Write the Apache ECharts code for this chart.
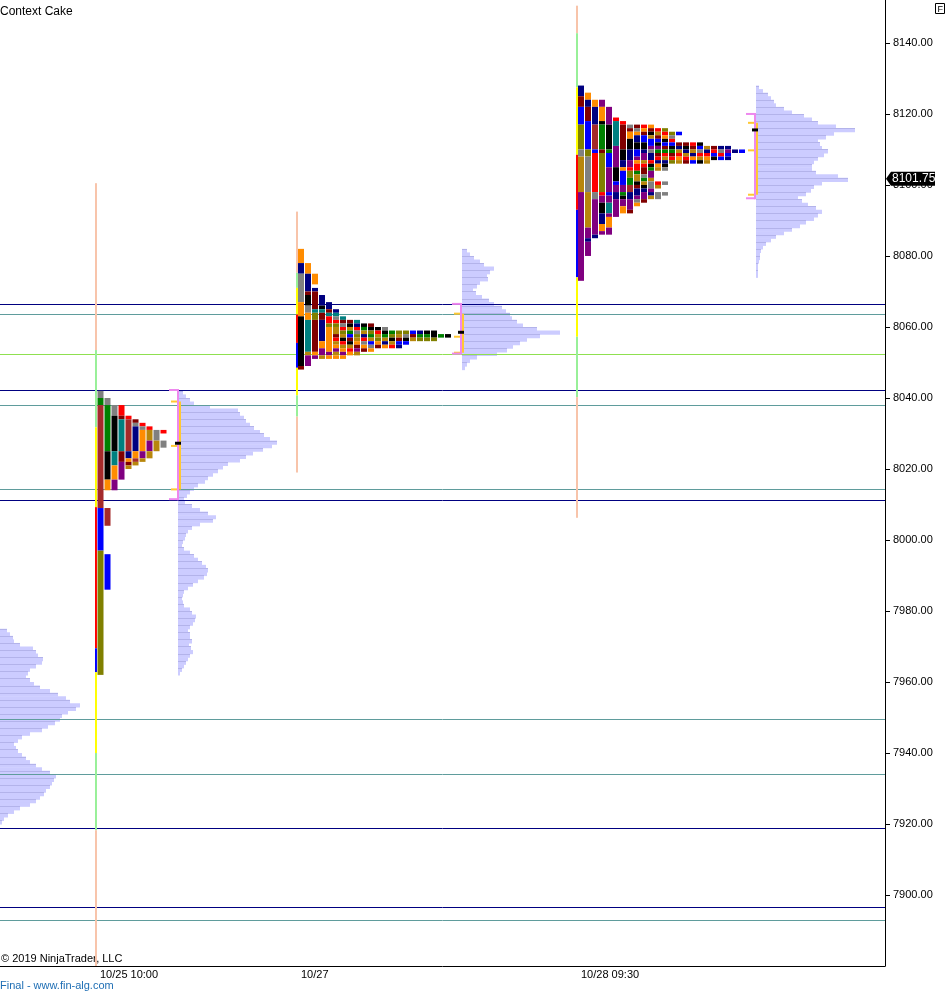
<!DOCTYPE html>
<html><head><meta charset="utf-8">
<script src="https://cdn.jsdelivr.net/npm/echarts@6/dist/echarts.min.js"></script>
<style>html,body{margin:0;padding:0;background:#fff;}#c{width:946px;height:992px;}</style>
</head><body><div id="c"></div>
<script>
// ---------------- axes ----------------
const Y_MIN = 7880, Y_MAX = 8152.1;
const yTickValues = [7900, 7920, 7940, 7960, 7980, 8000, 8020, 8040, 8060, 8080, 8100, 8120, 8140];
const X_MIN = 0, X_MAX = 126.43;            // 30-minute slots
const xTickSlots = [13.71, 42.43, 82.43];
const xTickLabels = ['10/25 10:00', '10/27', '10/28 09:30'];
const lastPrice = 8101.75;

// ---------------- horizontal reference lines ----------------
const navyLines = [8066.5, 8042.25, 8011.25, 7919.0, 7896.5];
const tealLines = [8063.75, 8038.0, 8014.5, 7949.5, 7934.0, 7893.0];
const greenLines = [8052.25];

// ---------------- TPO colour codes ----------------
const TPO_COLORS = {g:'#808080',G:'#008000',b:'#a52a2a',k:'#000000',o:'#ff8c00',p:'#800080',r:'#ff0000',
  m:'#800000',t:'#008080',n:'#000080',y:'#b8860b',B:'#0000ff',l:'#808000'};
const RANGE_COLORS = {s:'#f8c4aa', L:'#98f098', Y:'#ffff00', r:'#ff0000', B:'#0000ff'};

// ---------------- profile 1 (10/25) ----------------
const p1Top = 8042;
const p1ColStart = 13.93;
const p1Cols = ['2g2G29b12B35l','2.2g13G8k3o5.5b8.10B','4.3g10k4t4o3p','4.3r1m9t3m5p','7.1r9b2n1o1m1y',
  '8.1m1g7n2o1b1y','9.1r1g6o2p1y','10.1r3y3p2y','11.3g3y','11.1r2.2g'];
const p1RangeX = 13.71;
const p1Range = [[8100.5,8053.5,'s'],[8053.5,8031.75,'L'],[8031.75,8009.25,'Y'],[8009.25,7969.5,'r'],
  [7969.5,7962.75,'B'],[7962.75,7940.0,'Y'],[7940.0,7918.25,'L'],[7918.25,7870,'s']];
const p1VolStart = 25.43;
const p1Vol = [5,8,12,16,32,60,62,66,68,72,76,82,86,92,99,94,85,75,68,62,50,45,40,35,30,27,20,16,12,9,6,7,14,22,30,38,35,22,14,10,
  8,7,5,4,6,12,16,20,24,28,30,29,26,20,15,10,6,5,4,5,6,12,14,18,17,15,12,10,12,12,14,11,13,15,12,10,8,6,4,2];
const p1Bracket = [25.29, 8042.25, 8011.5, 8039.0, 8014.25, 8026.5, 8027.25]; // x, VAH, VAL, vVAH, vVAL, mid, POC

// ---------------- profile 2 (10/27) ----------------
const p2Top = 8082;
const p2ColStart = 42.57;
const p2Cols = ['4o3n8g4o14k1m','4.3o5n1m3k2g2o9t1y3p','7.3o1.1n5m1t2l9m1o1p','13.3n1k1t2m6n2o2p1y','15.2n1m1t2r1l7o1p1o',
  '17.1n1t1g1r1l2y1m1r1y1o1p1y1o','19.1t1m1g1r1l1y1k1r1y1o1p1o','20.1m1k1y1G1B1m1k1y1r1o','20.1t1n1r1g1l1y1o1m1p1y',
  '21.1k1G1y1n1r1g1o1m','21.1m1k1l1G1y1B1g1o','22.1k1r1y1l1o1m','22.1g1k1G1y1n1o','23.1G1l1k1y1r','23.1l1y1m1B1n',
  '23.1l1g1k1B','23.1B1m1y','23.1n1G1l','23.1k1G1l','23.2k1l','24.1G','24.1k'];
const p2RangeX = 42.43;
const p2Range = [[8092.5,8075.25,'s'],[8075.25,8071,'L'],[8071,8063.5,'Y'],[8063.5,8055.5,'r'],
  [8055.5,8048.5,'B'],[8048.5,8040.75,'Y'],[8040.75,8034.75,'L'],[8034.75,8019,'s']];
const p2VolStart = 66.0;
const p2Vol = [5,8,12,18,22,32,28,25,26,18,15,11,14,20,27,32,40,44,48,50,55,61,75,98,78,65,58,51,45,35,15,8,5,3];
const p2Bracket = [65.71, 8066.5, 8052.5, 8063.75, 8052.75, 8057.25, 8058.5];

// ---------------- profile 3 (10/28) ----------------
const p3Top = 8128;
const p3ColStart = 82.57;
const p3Cols = ['3n3m5B7l2g10y25p','2.2o2n4m8B2l10g10y3p1n4p','4.2o5n7b1B11r2g10p1n','4.2p4o1k7G1m11l1r2p3k3n2o1p',
  '6.5p7k1G4B7p1B2p3t1p3o2p','9.1r7t6p4k1B2p2n5p','10.1r7m3k2n1o4B2p1G1k2p2o','11.1g1m2o3k3n2p1r2l2G2b2n3p1m',
  '11.1m1g1o2n2k2B1p1o2r1G2y1k1m2n1p1g1o','11.1r1o1m2B2k1n2p1y1r2m1g1G1y1k1n2p1m','11.1o1m1k1y2B1p1g2n1r1k1G2p1y2g1p1n1y',
  '12.1r1y1m1B1k1p1G1m1r1n1o1y3.1r1y1.2g','12.1l1r1o1k1B1m1G1r1y1n1k1g3.1g2.1g','13.1l1g1r1B1k1G1m1r1l',
  '13.1B2.1m1n1y1r1o1y','16.1m1k1n1y1r1m','16.1r1m1y1n1o1B','16.1k1B1g1r1y1k','17.1y1n1r1o1y','17.1m1r1B1k',
  '17.1n1g1r1B','17.1n1p1B1n','18.1n','18.1B'];
const p3RangeX = 82.43;
const p3Range = [[8150.5,8142.75,'s'],[8142.75,8127.5,'L'],[8127.5,8108.5,'Y'],[8108.5,8093,'r'],
  [8093,8074,'B'],[8074,8057.25,'Y'],[8057.25,8040.25,'L'],[8040.25,8006.25,'s']];
const p3VolStart = 108.0;
const p3Vol = [3,7,12,15,18,20,28,36,48,56,62,80,99,78,70,62,64,66,72,68,62,58,56,56,60,82,92,66,58,55,50,42,46,52,60,66,62,58,
  50,44,36,28,20,15,10,7,5,4,4,3,2,2,2,2];
const p3Bracket = [107.71, 8120.0, 8096.25, 8117.5, 8097.25, 8109.75, 8115.5];

// ---------------- previous session volume profile (left edge) ----------------
const p0Top = 7975;
const p0VolStart = 0;
const p0Vol = [7,10,13,14,20,33,36,38,43,42,36,30,28,26,30,34,40,50,58,66,70,80,76,68,62,60,55,48,42,30,22,18,14,16,18,22,26,
  30,36,42,50,56,54,52,50,46,44,40,36,30,20,14,8,4,2];

// ---------------- build series data ----------------
const ROW = 1;                 // points per TPO / volume row
const VOL_SCALE = 1 / 7;       // slots per volume unit

function tpoItems(top, colStart, cols) {
  const out = [];
  cols.forEach((rle, i) => {
    let row = 0; const re = /(\d+)([.A-Za-z])/g; let m;
    while ((m = re.exec(rle))) {
      const n = +m[1], c = m[2];
      if (c !== '.') out.push({value: [colStart + i, top - row * ROW, top - (row + n) * ROW], itemStyle: {color: TPO_COLORS[c]}});
      row += n;
    }
  });
  return out;
}
function rangeItems(x, segs) {
  return segs.map(s => ({value: [x, s[0], s[1]], itemStyle: {color: RANGE_COLORS[s[2]]}}));
}
function volItems(top, start, vols) {
  return vols.map((v, i) => [start, top - i * ROW, top - (i + 1) * ROW, v, i]);
}
const tpoData = [].concat(tpoItems(p1Top, p1ColStart, p1Cols), tpoItems(p2Top, p2ColStart, p2Cols), tpoItems(p3Top, p3ColStart, p3Cols));
const rangeData = [].concat(rangeItems(p1RangeX, p1Range), rangeItems(p2RangeX, p2Range), rangeItems(p3RangeX, p3Range));
const volData = [].concat(volItems(p0Top, p0VolStart, p0Vol), volItems(p1Top, p1VolStart, p1Vol),
  volItems(p2Top, p2VolStart, p2Vol), volItems(p3Top, p3VolStart, p3Vol));
const hlineData = [].concat(
  navyLines.map(p => ({value: [0, p], itemStyle: {color: '#000080'}})),
  tealLines.map(p => ({value: [0, p], itemStyle: {color: '#5f9c9c'}})),
  greenLines.map(p => ({value: [0, p], itemStyle: {color: '#8fe050'}})));

// ---------------- renderers ----------------
function renderTpo(params, api) {
  const c = api.value(0), a = api.coord([c, api.value(1)]), b = api.coord([c + 1, api.value(2)]);
  return {type: 'rect', shape: {x: a[0], y: a[1], width: b[0] - a[0] - 1, height: b[1] - a[1]}, style: {fill: api.visual('color')}};
}
function renderRange(params, api) {
  const a = api.coord([api.value(0), api.value(1)]), b = api.coord([api.value(0), api.value(2)]);
  return {type: 'rect', shape: {x: a[0] - 1, y: a[1], width: 2, height: b[1] - a[1]}, style: {fill: api.visual('color')}};
}
function renderVol(params, api) {
  const x0 = api.value(0), a = api.coord([x0, api.value(1)]), b = api.coord([x0 + api.value(3) * VOL_SCALE, api.value(2)]);
  const ch = [{type: 'rect', shape: {x: a[0], y: a[1], width: b[0] - a[0], height: b[1] - a[1] + 0.6}, style: {fill: '#ccccff'}}];
  if (api.value(4) % 2 === 0) ch.push({type: 'rect', shape: {x: a[0], y: Math.round(a[1]), width: b[0] - a[0], height: 1}, style: {fill: '#b3b3ea'}});
  return {type: 'group', children: ch};
}
function renderHline(params, api) {
  const cs = params.coordSys, y = Math.round(api.coord([0, api.value(1)])[1]) + 0.5;
  return {type: 'line', shape: {x1: cs.x, y1: y, x2: cs.x + cs.width, y2: y}, style: {stroke: api.visual('color'), lineWidth: 1}};
}
function renderBracket(params, api) {
  const x = api.value(0), X = Math.round(api.coord([x, api.value(1)])[0]);
  const yv = k => api.coord([x, api.value(k)])[1];
  const vaH = yv(1), vaL = yv(2), vH = yv(3), vL = yv(4), vM = yv(5), poc = yv(6);
  const pink = '#ee88ee', gold = '#ffc833';
  const r = (x0, y0, w, h, f) => ({type: 'rect', shape: {x: x0, y: y0, width: w, height: h}, style: {fill: f}});
  return {type: 'group', children: [
    r(X + 2, vH, 2, vL - vH, gold),
    r(X - 6, vH - 1, 6, 2, gold), r(X - 6, vM - 1, 6, 2, gold), r(X - 6, vL - 1, 6, 2, gold),
    r(X, vaH - 1, 2, vaL - vaH + 2, pink),
    r(X - 8, vaH - 1, 9, 2, pink), r(X - 8, vaL - 1, 9, 2, pink),
    r(X - 2, poc - 1.5, 6, 3, '#000')
  ]};
}
function renderLast(params, api) {
  const p = api.coord([X_MAX, api.value(1)]); const X = p[0], Y = p[1];
  return {type: 'group', children: [
    {type: 'polygon', shape: {points: [[X + 1, Y], [X + 6, Y - 7], [X + 50, Y - 7], [X + 50, Y + 7], [X + 6, Y + 7]]}, style: {fill: '#000'}},
    {type: 'text', x: X + 7, y: Y, style: {text: lastPrice.toFixed(2), fill: '#fff', font: '12px "Liberation Sans"', verticalAlign: 'middle', align: 'left'}}
  ]};
}

const chart = echarts.init(document.getElementById('c'), null, {renderer: 'canvas'});
chart.setOption({
  animation: false,
  backgroundColor: '#fff',
  grid: {left: 0, right: 61, top: 0, bottom: 26, containLabel: false},
  xAxis: {type: 'value', min: X_MIN, max: X_MAX, splitLine: {show: false},
    axisLine: {show: true, onZero: false, lineStyle: {color: '#000', width: 1}}, axisTick: {show: false},
    axisLabel: {customValues: xTickSlots, align: 'left', margin: 3, padding: [0, 0, 0, 4], color: '#000',
      fontFamily: 'Liberation Sans', fontSize: 11,
      formatter: v => { const i = xTickSlots.findIndex(s => Math.abs(s - v) < 1e-6); return i >= 0 ? xTickLabels[i] : ''; }}},
  yAxis: {type: 'value', position: 'right', min: Y_MIN, max: Y_MAX, splitLine: {show: false},
    axisLine: {show: true, onZero: false, lineStyle: {color: '#000', width: 1}},
    axisTick: {show: true, length: 5, customValues: yTickValues, lineStyle: {color: '#000'}},
    axisLabel: {customValues: yTickValues, margin: 8, color: '#000', fontFamily: 'Liberation Sans', fontSize: 11,
      formatter: v => v.toFixed(2)}},
  graphic: [
    {type: 'text', left: 0, top: 6, style: {text: 'Context Cake', font: '12px "Liberation Sans"', fill: '#000'}},
    {type: 'text', left: 1, top: 953, style: {text: '© 2019 NinjaTrader, LLC', font: '11px "Liberation Sans"', fill: '#000'}},
    {type: 'text', left: 0, top: 980, style: {text: 'Final - www.fin-alg.com', font: '11px "Liberation Sans"', fill: '#1e6eb4'}},
    {type: 'group', left: 935, top: 3, children: [
      {type: 'rect', shape: {x: 0.5, y: 0.5, width: 9, height: 10}, style: {fill: '#fff', stroke: '#000', lineWidth: 1}},
      {type: 'text', x: 2.5, y: 2, style: {text: 'F', font: '9px "Liberation Sans"', fill: '#000'}}]}
  ],
  series: [
    {type: 'custom', name: 'volume', clip: true, renderItem: renderVol, data: volData, z: 1},
    {type: 'custom', name: 'levels', clip: true, renderItem: renderHline, data: hlineData, z: 2},
    {type: 'custom', name: 'range', clip: true, renderItem: renderRange, data: rangeData, z: 3},
    {type: 'custom', name: 'tpo', clip: true, renderItem: renderTpo, data: tpoData, z: 4},
    {type: 'custom', name: 'value area', clip: true, renderItem: renderBracket, data: [p1Bracket, p2Bracket, p3Bracket], z: 5},
    {type: 'custom', name: 'last', clip: false, renderItem: renderLast, data: [[X_MAX, lastPrice]], z: 10}
  ]
});
</script></body></html>
